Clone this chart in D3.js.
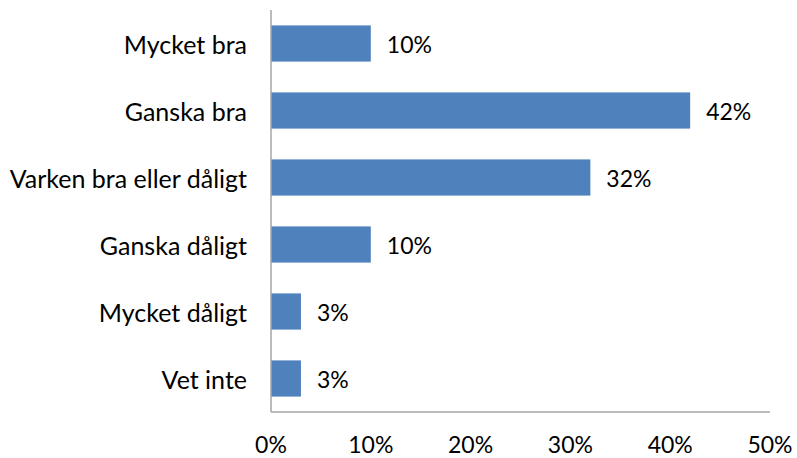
<!DOCTYPE html>
<html>
<head>
<meta charset="utf-8">
<script src="https://cdn.jsdelivr.net/npm/d3@7/dist/d3.min.js"></script>
<style>
  body { margin: 0; background: #fff; }
  text { font-family: Lato, "Open Sans", sans-serif; fill: #000; }
</style>
</head>
<body>
<svg id="chart" width="797" height="458"></svg>
<script>
const categories = ["Mycket bra", "Ganska bra", "Varken bra eller dåligt", "Ganska dåligt", "Mycket dåligt", "Vet inte"];
const values = [0.10, 0.42, 0.32, 0.10, 0.03, 0.03];
const valueLabels = ["10%", "42%", "32%", "10%", "3%", "3%"];
const tickValues = [0, 0.1, 0.2, 0.3, 0.4, 0.5];

const svg = d3.select("#chart");
const margin = { left: 271, right: 27, top: 10, bottom: 46 };
const W = 797, H = 458;
const x = d3.scaleLinear().domain([0, 0.5]).range([margin.left, W - margin.right]);
const y = d3.scaleBand().domain(categories).range([margin.top, H - margin.bottom]).paddingInner(0.46).paddingOuter(0.23);

const catFs = 25, numFs = 23;

svg.append("g").selectAll("rect").data(values).join("rect")
  .attr("x", x(0))
  .attr("y", (d, i) => y(categories[i]))
  .attr("width", d => x(d) - x(0))
  .attr("height", y.bandwidth())
  .attr("fill", "#4F81BD");

// axes lines
svg.append("line").attr("x1", x(0)).attr("x2", x(0)).attr("y1", margin.top).attr("y2", H - margin.bottom)
  .attr("stroke", "#A6A6A6").attr("stroke-width", 1.5);
svg.append("line").attr("x1", x(0)).attr("x2", x(0.5)).attr("y1", H - margin.bottom).attr("y2", H - margin.bottom)
  .attr("stroke", "#A6A6A6").attr("stroke-width", 1.5);

// category labels
svg.append("g").selectAll("text").data(categories).join("text")
  .attr("x", x(0) - 24)
  .attr("y", d => y(d) + y.bandwidth() / 2)
  .attr("text-anchor", "end")
  .attr("dominant-baseline", "central")
  .style("font-size", catFs + "px")
  .text(d => d);

// value labels
svg.append("g").selectAll("text").data(values).join("text")
  .attr("x", d => x(d) + 16)
  .attr("y", (d, i) => y(categories[i]) + y.bandwidth() / 2)
  .attr("dominant-baseline", "central")
  .style("font-size", numFs + "px")
  .text((d, i) => valueLabels[i]);

// x tick labels
svg.append("g").selectAll("text").data(tickValues).join("text")
  .attr("x", d => x(d))
  .attr("y", 444)
  .attr("text-anchor", "middle")
  .attr("dominant-baseline", "central")
  .style("font-size", numFs + "px")
  .text(d3.format(".0%"));
</script>
</body>
</html>
